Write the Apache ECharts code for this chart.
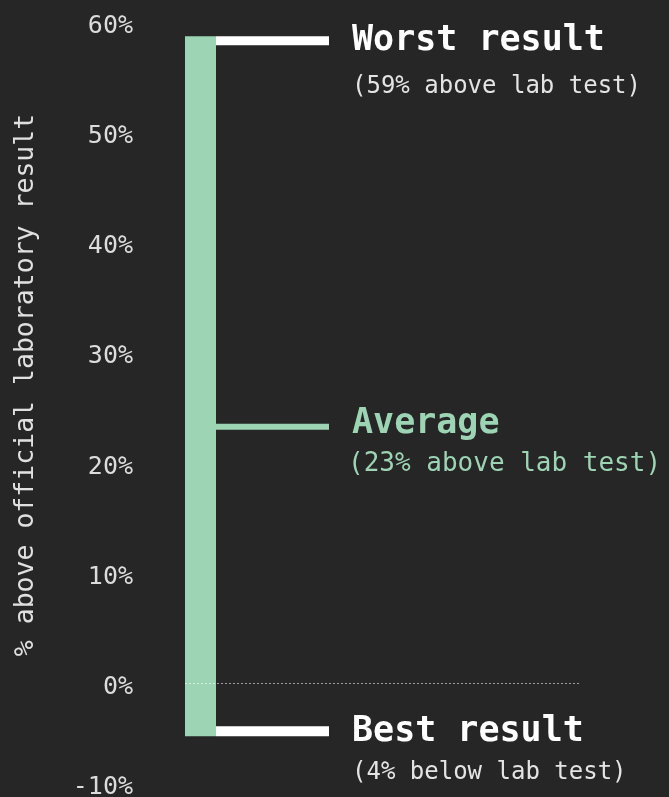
<!DOCTYPE html>
<html>
<head>
    <meta charset="utf-8" />
    <title>Range vs lab test</title>
    <script src="https://cdn.jsdelivr.net/npm/echarts@6/dist/echarts.min.js"></script>
    <style>
        html, body { margin: 0; padding: 0; background: #262626; }
        #chart { width: 669px; height: 797px; }
    </style>
</head>
<body>
    <div id="chart"></div>
    <script type="text/javascript">
        // data
        var yTicks = [-10, 0, 10, 20, 30, 40, 50, 60];
        var markNames = ['Worst result', 'Average', 'Best result'];
        var markNotes = ['(59% above lab test)', '(23% above lab test)', '(4% below lab test)'];
        var markValues = [58.3, 23.3, -4.3];   // worst, average, best
        var zeroValue = 0;

        // styles
        var MONO = '"DejaVu Sans Mono", "Liberation Mono", monospace';
        var GREEN = '#9cd4b4';
        var LABEL = '#dcdcdc';
        var BAR_W = 31;
        var LINE_LEN = 113;
        var markColors = ['#ffffff', GREEN, '#ffffff'];
        var noteColors = ['#e4e4e4', GREEN, '#e4e4e4'];
        var lineWidths = [9, 6, 10];
        var noteSizes = [24, 26, 24];
        var titleDy = [0, -3, 1];
        var noteDy = [46, 38, 42];

        var chart = echarts.init(document.getElementById('chart'));

        function renderBar(params, api) {
            var top = api.coord([0, api.value(2)]);
            var bot = api.coord([0, api.value(1)]);
            return {
                type: 'rect',
                shape: { x: top[0], y: top[1] - 4.5, width: BAR_W, height: bot[1] - top[1] + 9.5 },
                style: { fill: GREEN }
            };
        }

        function renderMark(params, api) {
            var i = api.value(2);
            var p = api.coord([0, api.value(1)]);
            var x0 = p[0] + BAR_W;
            var w = lineWidths[i];
            return {
                type: 'group',
                children: [
                    {
                        type: 'rect',
                        shape: { x: x0, y: p[1] - w / 2, width: LINE_LEN, height: w },
                        style: { fill: markColors[i] }
                    },
                    {
                        type: 'text',
                        x: x0 + LINE_LEN + 23,
                        y: p[1] + titleDy[i],
                        style: {
                            text: markNames[i],
                            fill: markColors[i],
                            fontFamily: MONO,
                            fontWeight: 'bold',
                            fontSize: 35,
                            verticalAlign: 'middle'
                        }
                    },
                    {
                        type: 'text',
                        x: x0 + LINE_LEN + (i === 1 ? 19 : 23),
                        y: p[1] + noteDy[i],
                        style: {
                            text: markNotes[i],
                            fill: noteColors[i],
                            fontFamily: MONO,
                            fontSize: noteSizes[i],
                            verticalAlign: 'middle'
                        }
                    }
                ]
            };
        }

        var option = {
            backgroundColor: '#262626',
            animation: false,
            grid: { left: 185, right: 89, top: 22, bottom: 3, outerBoundsMode: 'none', containLabel: false },
            xAxis: { type: 'value', min: 0, max: 1, show: false },
            yAxis: {
                type: 'value',
                min: yTicks[0],
                max: yTicks[yTicks.length - 1],
                interval: 10,
                axisLine: { show: false },
                axisTick: { show: false },
                splitLine: { show: false },
                axisLabel: {
                    margin: 52,
                    formatter: function (v) {
                        return (v === yTicks[0] ? '{lo|' : '{n|') + v + '%}';
                    },
                    rich: {
                        n: { fontFamily: MONO, fontSize: 25, color: LABEL, padding: [8, 0, 0, 0] },
                        lo: { fontFamily: MONO, fontSize: 25, color: LABEL, padding: [0, 0, 14, 0] }
                    }
                }
            },
            graphic: [{
                type: 'text',
                x: 26,
                y: 385,
                rotation: Math.PI / 2,
                style: {
                    text: '% above official laboratory result',
                    fill: '#e0e0e0',
                    fontFamily: MONO,
                    fontSize: 26.5,
                    align: 'center',
                    verticalAlign: 'middle'
                }
            }],
            series: [
                {
                    type: 'custom',
                    renderItem: renderBar,
                    data: [[0, markValues[2], markValues[0]]],
                    z: 2
                },
                {
                    type: 'custom',
                    renderItem: renderMark,
                    data: markValues.map(function (v, i) { return [0, v, i]; }),
                    z: 3,
                    markLine: {
                        silent: true,
                        symbol: 'none',
                        label: { show: false },
                        lineStyle: { color: 'rgba(255,255,255,0.55)', width: 1, type: [2, 2] },
                        data: [{ yAxis: zeroValue }]
                    }
                }
            ]
        };

        chart.setOption(option);
    </script>
</body>
</html>
